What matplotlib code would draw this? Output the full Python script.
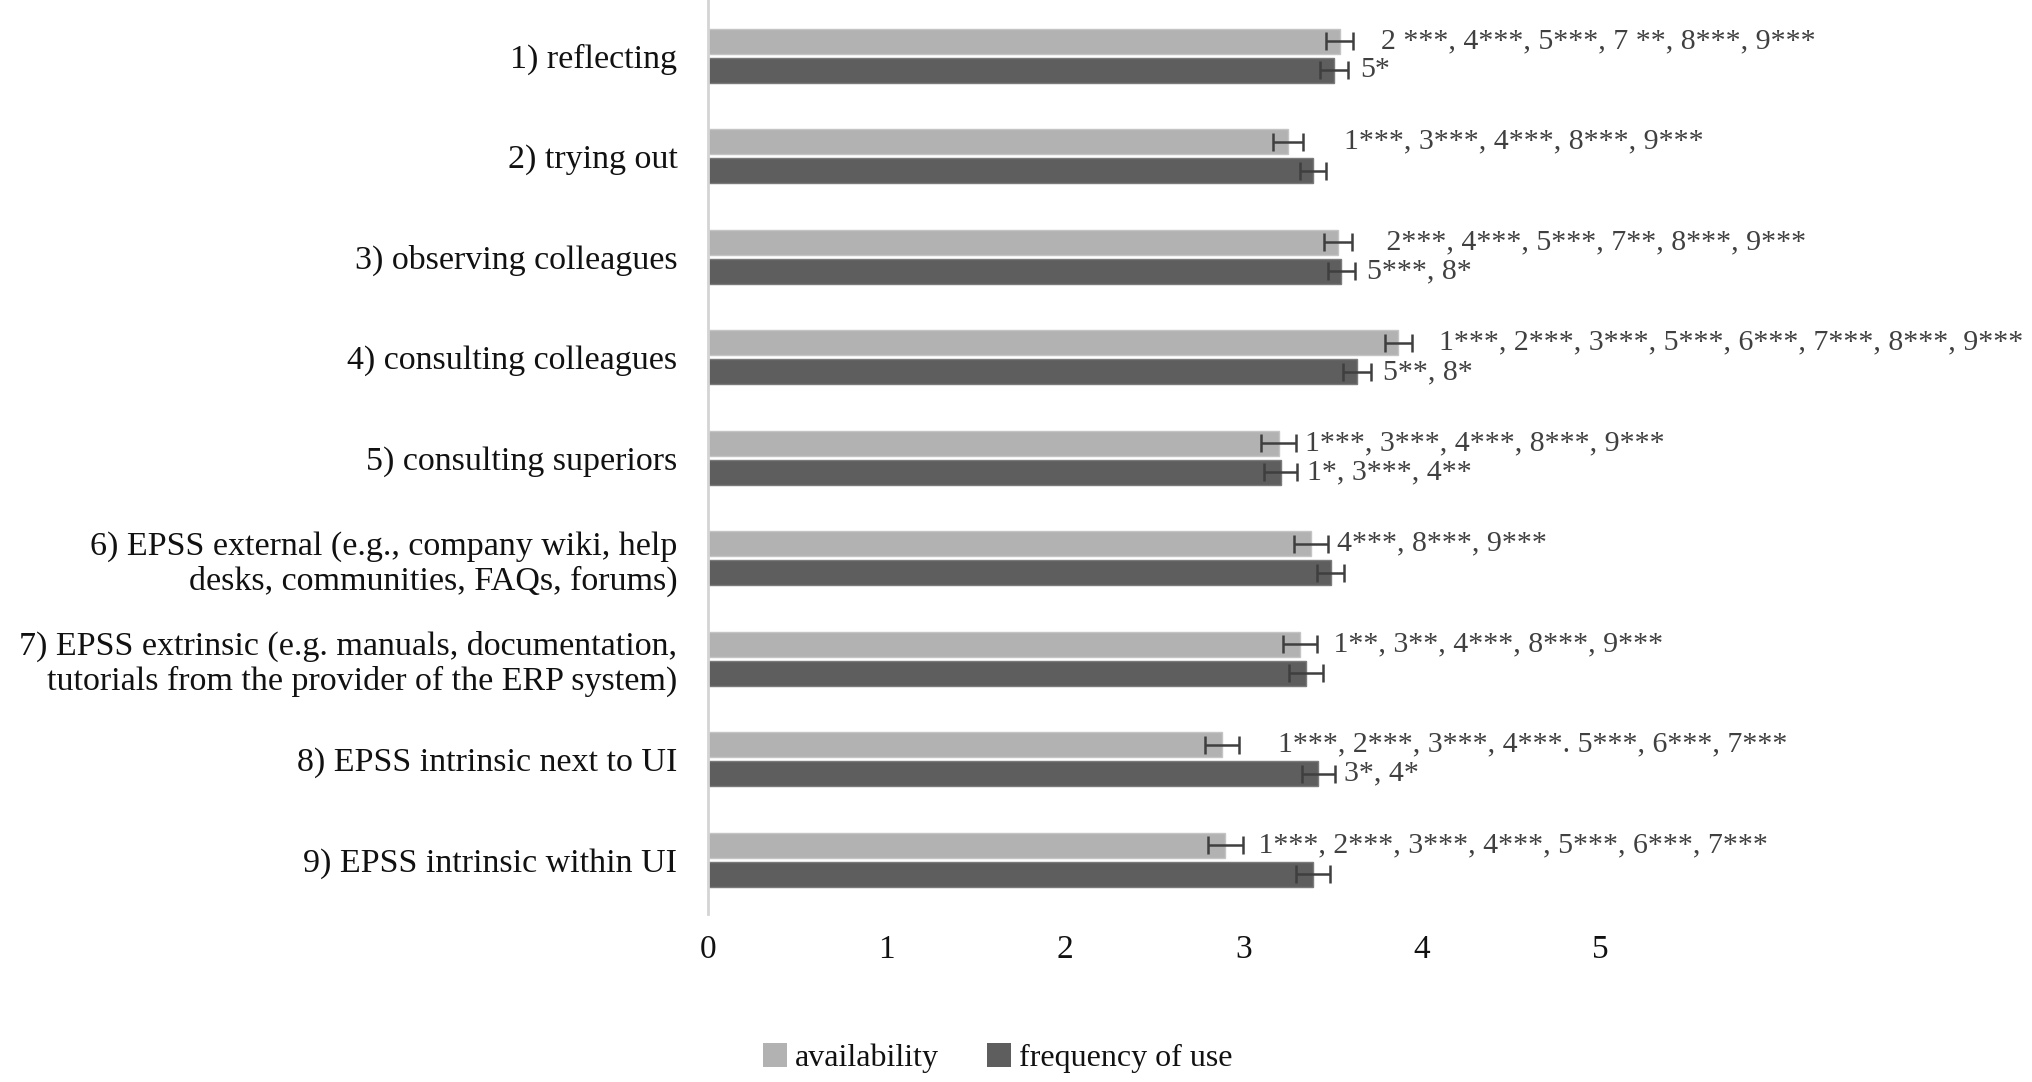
import matplotlib
matplotlib.use("Agg")
import matplotlib.pyplot as plt
import numpy as np
from matplotlib.patches import Patch

categories = [
    "1) reflecting",
    "2) trying out",
    "3) observing colleagues",
    "4) consulting colleagues",
    "5) consulting superiors",
    "6) EPSS external (e.g., company wiki, help\ndesks, communities, FAQs, forums)",
    "7) EPSS extrinsic (e.g. manuals, documentation,\ntutorials from the provider of the ERP system)",
    "8) EPSS intrinsic next to UI",
    "9) EPSS intrinsic within UI",
]
availability = [3.54, 3.25, 3.53, 3.87, 3.20, 3.38, 3.32, 2.88, 2.90]
availability_err = [0.077, 0.084, 0.079, 0.077, 0.098, 0.096, 0.096, 0.096, 0.10]
frequency = [3.51, 3.39, 3.55, 3.64, 3.21, 3.49, 3.35, 3.42, 3.39]
frequency_err = [0.077, 0.074, 0.077, 0.079, 0.091, 0.077, 0.096, 0.093, 0.096]

availability_labels = [
    "  2 ***, 4***, 5***, 7 **, 8***, 9***",
    "    1***, 3***, 4***, 8***, 9***",
    "   2***, 4***, 5***, 7**, 8***, 9***",
    "  1***, 2***, 3***, 5***, 6***, 7***, 8***, 9***",
    "1***, 3***, 4***, 8***, 9***",
    "4***, 8***, 9***",
    " 1**, 3**, 4***, 8***, 9***",
    "    1***, 2***, 3***, 4***. 5***, 6***, 7***",
    " 1***, 2***, 3***, 4***, 5***, 6***, 7***",
]
frequency_labels = ["5*", "", "5***, 8*", "5**, 8*", "1*, 3***, 4**", "", "", "3*, 4*", ""]

series_names = ["availability", "frequency of use"]
xticks = [0, 1, 2, 3, 4, 5]

plt.rcParams["font.family"] = ["Liberation Serif", "DejaVu Serif"]

W, H = 2032, 1082
fig = plt.figure(figsize=(W / 100, H / 100), dpi=100)
ax = fig.add_axes([708 / W, 1 - 914 / H, (6 * 178.4) / W, 914 / H])

light = "#b2b2b2"
dark = "#5e5e5e"
errc = "#3f3f3f"
y = np.arange(len(categories))
off = 0.145
bh = 0.25

ax.barh(y - off, availability, height=bh, color=light, edgecolor="#c4c4c4", linewidth=1.0, zorder=2)
ax.barh(y + off, frequency, height=bh, color=dark, edgecolor="#7a7a7a", linewidth=1.0, zorder=2)
ax.errorbar(availability, y - off, xerr=availability_err, fmt="none", ecolor=errc,
            elinewidth=1.8, capsize=6.5, capthick=1.8, zorder=3)
ax.errorbar(frequency, y + off, xerr=frequency_err, fmt="none", ecolor=errc,
            elinewidth=1.8, capsize=6.5, capthick=1.8, zorder=3)

for i in range(len(categories)):
    if availability_labels[i]:
        ax.annotate(availability_labels[i], xy=(availability[i], y[i] - off),
                    xytext=(26, 0), textcoords="offset pixels", va="center", ha="left",
                    fontsize=21.5, color="#404040", annotation_clip=False, zorder=4)
    if frequency_labels[i]:
        ax.annotate(frequency_labels[i], xy=(frequency[i], y[i] + off),
                    xytext=(26, 0), textcoords="offset pixels", va="center", ha="left",
                    fontsize=21.5, color="#404040", annotation_clip=False, zorder=4)

ax.set_xlim(0, 6)
ax.set_ylim(len(categories) - 0.46, -0.556)
ax.set_yticks(y)
ax.set_yticklabels(categories, fontsize=24.5, color="#111111", linespacing=1.15)
ax.set_xticks(xticks)
ax.set_xticklabels([str(t) for t in xticks], fontsize=24, color="#111111")
ax.tick_params(axis="y", length=0, pad=22)
ax.tick_params(axis="x", length=0, pad=15)
for s in ["top", "right", "bottom"]:
    ax.spines[s].set_visible(False)
ax.spines["left"].set_color("#d4d4d4")
ax.spines["left"].set_linewidth(2)

handles = [Patch(facecolor=light, edgecolor="none"), Patch(facecolor=dark, edgecolor="none")]
fig.legend(handles, series_names, loc="center", bbox_to_anchor=(998 / W, 1 - 1058 / H),
           ncol=2, frameon=False, fontsize=23, handlelength=0.75, handleheight=0.8,
           handletextpad=0.25, columnspacing=1.5, labelcolor="#111111")

fig.savefig("out.png", dpi=100)
